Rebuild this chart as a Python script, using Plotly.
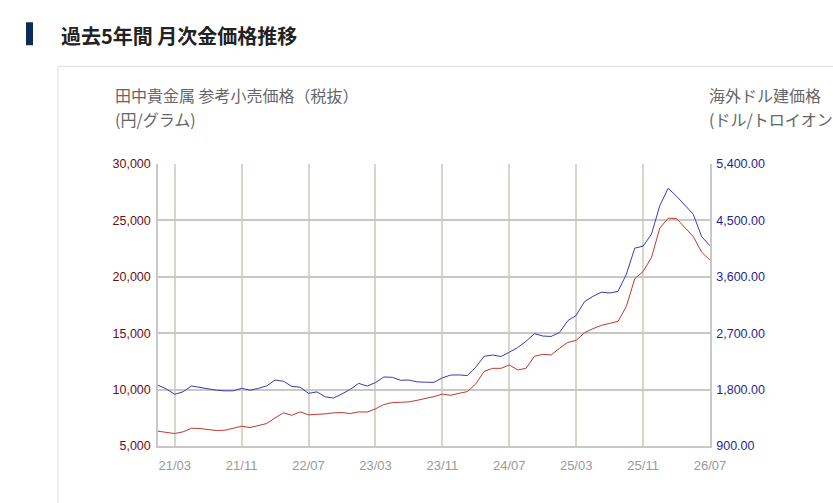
import plotly.graph_objects as go

# Monthly categories 2021/01 .. 2026/07
months = [f"{y % 100:02d}/{m:02d}" for y in range(2021, 2027) for m in range(1, 13)][:67]
tick_labels = ["21/03", "21/11", "22/07", "23/03", "23/11", "24/07", "25/03", "25/11", "26/07"]

# 田中貴金属 参考小売価格（税抜） 円/グラム
yen_price = [6310, 6195, 6106, 6255, 6575, 6549, 6434, 6372, 6399, 6549,
             6752, 6637, 6814, 6991, 7496, 7938, 7726, 8027, 7761, 7788,
             7850, 7938, 7965, 7876, 8027, 8010, 8292, 8673, 8850, 8876,
             8912, 9053, 9204, 9381, 9600, 9497, 9673, 9823, 10505, 11620,
             11886, 11886, 12186, 11744, 11886, 12950, 13127, 13068, 13658, 14180,
             14363, 15045, 15399, 15692, 15868, 16045, 17372, 19824, 20470, 21709,
             24311, 25196, 25160, 24364, 23567, 22186, 21478]

# 海外ドル建価格 ドル/トロイオンス
usd_price = [1870, 1810, 1725, 1765, 1858, 1836, 1810, 1790, 1780, 1780,
             1821, 1790, 1819, 1860, 1952, 1934, 1851, 1838, 1740, 1764,
             1685, 1666, 1731, 1805, 1899, 1857, 1912, 2001, 1996, 1949,
             1953, 1923, 1918, 1916, 1988, 2032, 2034, 2024, 2160, 2331,
             2352, 2328, 2396, 2470, 2570, 2693, 2655, 2648, 2711, 2900,
             2984, 3205, 3287, 3354, 3342, 3367, 3640, 4057, 4089, 4280,
             4736, 5013, 4886, 4747, 4599, 4242, 4094]

left_ticks = [5000, 10000, 15000, 20000, 25000, 30000]
right_ticks = [900, 1800, 2700, 3600, 4500, 5400]

W, H = 833, 503
L, R, T, B = 158, 710, 164, 446.5
PW, PH = R - L, B - T

def px(x):
    return (x - L) / PW

def py(y):
    return (B - y) / PH

fig = go.Figure()
fig.add_trace(go.Scatter(x=months, y=yen_price, mode="lines",
                         line=dict(color="#c0392b", width=1), yaxis="y", showlegend=False))
fig.add_trace(go.Scatter(x=months, y=usd_price, mode="lines",
                         line=dict(color="#3a3aae", width=1), yaxis="y2", showlegend=False))

fig.update_layout(
    width=W, height=H,
    margin=dict(l=L, r=W - R, t=T, b=H - B, pad=0),
    paper_bgcolor="white",
    plot_bgcolor="#fbfbec",
    font=dict(family="Arial, Liberation Sans, sans-serif"),
    xaxis=dict(type="category", range=[0, len(months) - 1],
               tickvals=tick_labels, ticktext=tick_labels,
               showgrid=True, gridcolor="#d6d6cc", gridwidth=1.5,
               showline=True, linecolor="#c8c8c8", linewidth=1.5,
               ticks="outside", ticklen=7, tickcolor="rgba(0,0,0,0)",
               tickfont=dict(size=13, color="#999999"), zeroline=False),
    yaxis=dict(range=[5000, 30000], tickvals=left_ticks, tickformat=",",
               showgrid=True, gridcolor="#c8c8c8", gridwidth=1.5,
               showline=True, linecolor="#c8c8c8", linewidth=1.5,
               ticks="outside", ticklen=3, tickcolor="rgba(0,0,0,0)",
               tickfont=dict(size=12.5, color="#6e0c14"), zeroline=False),
    yaxis2=dict(range=[900, 5400], tickvals=right_ticks, tickformat=",.2f",
                overlaying="y", side="right", showgrid=False,
                showline=True, linecolor="#c8c8c8", linewidth=1.5,
                ticks="outside", ticklen=2, tickcolor="rgba(0,0,0,0)",
                tickfont=dict(size=12.5, color="#1f1f96"), zeroline=False),
)

# Outer box and title bar
fig.add_shape(type="rect", xref="paper", yref="paper", layer="below",
              x0=px(58), x1=px(W + 20), y0=py(66), y1=py(H + 20),
              line=dict(color="#dddddd", width=1), fillcolor="white")
fig.add_shape(type="rect", xref="paper", yref="paper",
              x0=px(26), x1=px(33), y0=py(22), y1=py(45),
              line=dict(width=0), fillcolor="#0e2a57")

cjk = "Noto Sans CJK JP"
fig.add_annotation(xref="paper", yref="paper", x=px(59), y=py(35), xanchor="left", yanchor="middle",
                   text="<b>過去5年間 月次金価格推移</b>", showarrow=False,
                   font=dict(family=cjk, size=20, color="#222222"))
fig.add_annotation(xref="paper", yref="paper", x=px(113), y=py(95), xanchor="left", yanchor="middle",
                   text="田中貴金属 参考小売価格（税抜）", showarrow=False,
                   font=dict(family=cjk, size=16, color="#666666"))
fig.add_annotation(xref="paper", yref="paper", x=px(113), y=py(119), xanchor="left", yanchor="middle",
                   text="(円/グラム)", showarrow=False,
                   font=dict(family=cjk, size=16, color="#666666"))
fig.add_annotation(xref="paper", yref="paper", x=px(707), y=py(95), xanchor="left", yanchor="middle",
                   text="海外ドル建価格", showarrow=False,
                   font=dict(family=cjk, size=16, color="#666666"))
fig.add_annotation(xref="paper", yref="paper", x=px(707), y=py(119), xanchor="left", yanchor="middle",
                   text="(ドル/トロイオンス)", showarrow=False,
                   font=dict(family=cjk, size=16, color="#666666"))

fig.write_html("out.html", config={"displayModeBar": False},
               post_script="document.body.style.margin='0';")
